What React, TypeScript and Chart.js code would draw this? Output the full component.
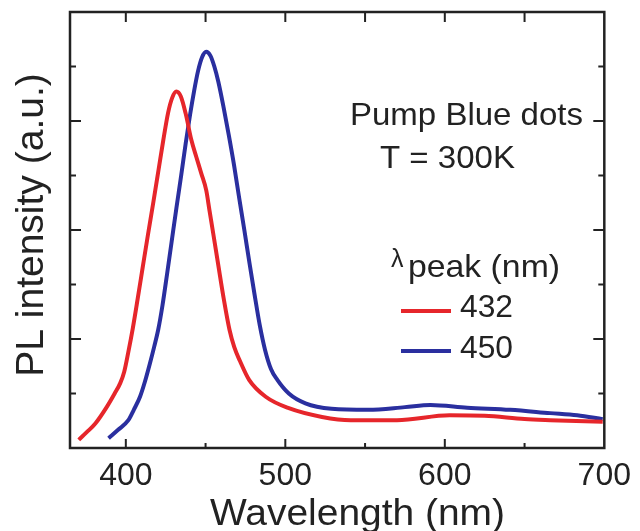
import React, { useEffect, useRef } from "react";
import { Chart, registerables } from "chart.js";

Chart.register(...registerables);

// ---- axis ranges & ticks ----
const wavelengthMin = 365;
const wavelengthMax = 700;
const intensityMin = 0;
const intensityMax = 8;
const xTickLabels = [400, 500, 600, 700];
const xMinorTicks = [450, 550, 650];
const xTopTicks = [400, 450, 500, 550, 600, 650];
const yMajorTicks = [2, 4, 6];
const yMinorTicks = [1, 3, 5, 7];

// ---- series: 432 nm dots (red) ----
const redWavelengths = [
  370.5, 375.5, 380.9, 388.2, 393.0, 396.5, 399.0, 401.5, 404.4, 407.5, 410.5, 413.8,
  417.2, 420.5, 423.5, 426.5, 429.0, 431.7, 434.5, 437.5, 441.1, 444.2, 447.3, 450.4,
  452.5, 455.0, 458.0, 461.5, 465.0, 468.0, 471.5, 477.3, 487.7, 502.2, 523.0, 541.0,
  570.0, 603.0, 625.0, 650.0, 666.0, 699.0,
];
const redIntensity = [
  0.15, 0.29, 0.45, 0.76, 1.0, 1.19, 1.4, 1.75, 2.2, 2.75, 3.3, 3.9,
  4.5, 5.1, 5.65, 6.15, 6.42, 6.54, 6.45, 6.14, 5.65, 5.34, 5.04, 4.73,
  4.35, 3.9, 3.35, 2.72, 2.17, 1.85, 1.6, 1.25, 0.94, 0.73, 0.57, 0.51,
  0.51, 0.6, 0.59, 0.53, 0.51, 0.48,
];

// ---- series: 450 nm dots (blue) ----
const blueWavelengths = [
  389.2, 395.0, 401.6, 405.0, 408.9, 412.0, 415.1, 417.8, 420.3, 423.0, 425.8, 428.7,
  431.7, 434.7, 437.6, 440.3, 442.8, 445.3, 447.8, 450.4, 453.0, 455.5, 458.0, 461.3,
  464.5, 467.8, 471.0, 474.3, 477.5, 480.7, 484.0, 487.3, 491.0, 495.0, 502.2, 512.6,
  529.0, 552.0, 575.0, 591.0, 614.0, 641.0, 666.0, 683.0, 699.0,
];
const blueIntensity = [
  0.18, 0.33, 0.51, 0.7, 0.94, 1.22, 1.55, 1.86, 2.17, 2.62, 3.18, 3.78,
  4.4, 5.0, 5.6, 6.12, 6.55, 6.92, 7.17, 7.27, 7.2, 7.0, 6.72, 6.25,
  5.75, 5.2, 4.6, 4.0, 3.4, 2.82, 2.25, 1.8, 1.45, 1.25, 1.0, 0.82,
  0.72, 0.7, 0.75, 0.79, 0.74, 0.7, 0.64, 0.6, 0.53,
];

const seriesLabels = ["432", "450"];
const seriesColors = ["#e6262b", "#2a2f9f"];
const annotationLines = ["Pump Blue dots", "T = 300K"];
const legendSymbol = "λ";
const legendTitle = "peak (nm)";
const xAxisTitle = "Wavelength (nm)";
const yAxisTitle = "PL intensity (a.u.)";

const FONT = '"Liberation Sans", Arial, Helvetica, sans-serif';
const INK = "#222222";

function drawText(
  ctx: CanvasRenderingContext2D,
  text: string,
  left: number,
  baseline: number,
  size: number,
  targetWidth?: number
) {
  ctx.save();
  ctx.font = `${size}px ${FONT}`;
  ctx.textAlign = "left";
  ctx.textBaseline = "alphabetic";
  ctx.fillStyle = INK;
  const w = ctx.measureText(text).width;
  const sx = targetWidth ? targetWidth / w : 1;
  ctx.translate(left, baseline);
  ctx.scale(sx, 1);
  ctx.fillText(text, 0, 0);
  ctx.restore();
}

const framePlugin = {
  id: "frame",
  afterDraw(chart: any) {
    const ctx: CanvasRenderingContext2D = chart.ctx;
    const { left, right, top, bottom } = chart.chartArea;
    const xs = chart.scales.x;
    const ys = chart.scales.y;

    ctx.save();
    // ticks
    ctx.strokeStyle = INK;
    ctx.lineWidth = 2;
    ctx.beginPath();
    xTickLabels.forEach((v) => {
      if (v >= wavelengthMax) return;
      const px = xs.getPixelForValue(v);
      ctx.moveTo(px, bottom);
      ctx.lineTo(px, bottom - 9);
    });
    xMinorTicks.forEach((v) => {
      const px = xs.getPixelForValue(v);
      ctx.moveTo(px, bottom);
      ctx.lineTo(px, bottom - 5);
    });
    xTopTicks.forEach((v) => {
      const px = xs.getPixelForValue(v);
      ctx.moveTo(px, top);
      ctx.lineTo(px, top + 10);
    });
    yMajorTicks.forEach((v) => {
      const py = ys.getPixelForValue(v);
      ctx.moveTo(left, py);
      ctx.lineTo(left + 11, py);
      ctx.moveTo(right, py);
      ctx.lineTo(right - 11, py);
    });
    yMinorTicks.forEach((v) => {
      const py = ys.getPixelForValue(v);
      ctx.moveTo(left, py);
      ctx.lineTo(left + 6, py);
      ctx.moveTo(right, py);
      ctx.lineTo(right - 6, py);
    });
    ctx.stroke();

    // box
    ctx.lineWidth = 2.5;
    ctx.strokeRect(left, top, right - left, bottom - top);
    ctx.restore();

    // annotation
    drawText(ctx, annotationLines[0], 350, 125, 32, 233);
    drawText(ctx, annotationLines[1], 380, 168, 32, 135);

    // legend
    drawText(ctx, legendSymbol, 391, 267, 25);
    drawText(ctx, legendTitle, 408, 277, 32, 152);
    const legendRows = [
      { lineY: 311, baseline: 317 },
      { lineY: 351, baseline: 358 },
    ];
    chart.data.datasets.forEach((ds: any, i: number) => {
      const row = legendRows[i];
      ctx.save();
      ctx.strokeStyle = ds.borderColor;
      ctx.lineWidth = 4;
      ctx.beginPath();
      ctx.moveTo(401, row.lineY);
      ctx.lineTo(451, row.lineY);
      ctx.stroke();
      ctx.restore();
      drawText(ctx, ds.label, 460, row.baseline, 32, 53);
    });

    // axis titles
    drawText(ctx, xAxisTitle, 210, 525, 37, 295);
    ctx.save();
    ctx.translate(43, 225);
    ctx.rotate(-Math.PI / 2);
    ctx.font = `39px ${FONT}`;
    ctx.fillStyle = INK;
    ctx.textAlign = "center";
    ctx.textBaseline = "alphabetic";
    ctx.fillText(yAxisTitle, 0, 0);
    ctx.restore();
  },
};

export default function App() {
  const canvasRef = useRef<HTMLCanvasElement | null>(null);

  useEffect(() => {
    if (!canvasRef.current) return;
    const chart = new Chart(canvasRef.current, {
      type: "line",
      data: {
        datasets: [
          {
            label: seriesLabels[0],
            data: redWavelengths.map((x, i) => ({ x, y: redIntensity[i] })),
            borderColor: seriesColors[0],
            borderWidth: 4,
            pointRadius: 0,
            cubicInterpolationMode: "monotone",
            fill: false,
          },
          {
            label: seriesLabels[1],
            data: blueWavelengths.map((x, i) => ({ x, y: blueIntensity[i] })),
            borderColor: seriesColors[1],
            borderWidth: 4,
            pointRadius: 0,
            cubicInterpolationMode: "monotone",
            fill: false,
          },
        ],
      },
      options: {
        animation: false,
        responsive: false,
        events: [],
        layout: { padding: { top: 12, right: 32, left: 0, bottom: 0 } },
        plugins: {
          legend: { display: false },
          tooltip: { enabled: false },
          title: { display: false },
        },
        scales: {
          x: {
            type: "linear",
            min: wavelengthMin,
            max: wavelengthMax,
            afterBuildTicks: (scale: any) => {
              scale.ticks = xTickLabels.map((v) => ({ value: v }));
            },
            afterFit: (scale: any) => {
              scale.height = 83;
            },
            grid: { display: false, drawTicks: false },
            border: { display: false },
            ticks: {
              autoSkip: false,
              maxRotation: 0,
              padding: 9,
              color: INK,
              font: { family: FONT, size: 32 },
              callback: (v: any) => String(v),
            },
          },
          y: {
            type: "linear",
            min: intensityMin,
            max: intensityMax,
            afterFit: (scale: any) => {
              scale.width = 70;
            },
            grid: { display: false, drawTicks: false },
            border: { display: false },
            ticks: { display: false },
          },
        },
      },
      plugins: [framePlugin],
    });
    return () => chart.destroy();
  }, []);

  return (
    <div style={{ position: "absolute", left: 0, top: 0, width: 640, height: 531, background: "#fff" }}>
      <canvas ref={canvasRef} width={640} height={531} style={{ display: "block" }} />
    </div>
  );
}
